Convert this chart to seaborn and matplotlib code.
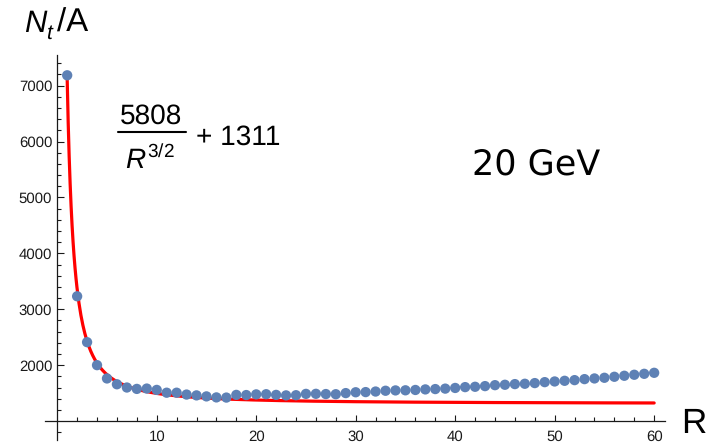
import numpy as np
import pandas as pd
import matplotlib
matplotlib.use("Agg")
import matplotlib.pyplot as plt
from matplotlib.lines import Line2D
import seaborn as sns

# Simulated N_t/A per ring R at 20 GeV
R = list(range(1, 61))
NtA = [7185, 3232, 2411, 2000, 1762, 1658, 1600, 1575, 1581, 1557,
       1507, 1507, 1474, 1459, 1441, 1423, 1420, 1468, 1465, 1477,
       1480, 1468, 1459, 1462, 1486, 1487, 1483, 1480, 1500, 1515,
       1518, 1528, 1542, 1548, 1550, 1556, 1566, 1572, 1580, 1592,
       1607, 1613, 1625, 1642, 1649, 1661, 1667, 1679, 1696, 1708,
       1720, 1732, 1750, 1762, 1774, 1792, 1810, 1828, 1845, 1863]

# Fit: a / R^(3/2) + b
fit_a = 5808
fit_b = 1311

x_major = [10, 20, 30, 40, 50, 60]
y_major = [2000, 3000, 4000, 5000, 6000, 7000]

sns.set_style("ticks")
plt.rcParams["font.family"] = ["Liberation Sans", "DejaVu Sans"]
plt.rcParams["mathtext.fontset"] = "custom"
plt.rcParams["mathtext.rm"] = "Liberation Sans"
plt.rcParams["mathtext.it"] = "Liberation Sans:italic"
plt.rcParams["text.hinting"] = "no_hinting"
plt.rcParams["text.hinting_factor"] = 1

W, H = 719, 448
fig = plt.figure(figsize=(W / 100, H / 100), dpi=100)
ax = fig.add_axes([45 / W, 8 / H, 620 / W, 385 / H])

df = pd.DataFrame({"R": R, "NtA": NtA})
r_fine = np.linspace(1, 60, 600)
fit_df = pd.DataFrame({"R": r_fine, "fit": fit_a / r_fine ** 1.5 + fit_b})

sns.lineplot(data=fit_df, x="R", y="fit", color="#ff0000", linewidth=2.3,
             estimator=None, ax=ax, zorder=2)
sns.scatterplot(data=df, x="R", y="NtA", color="#5e81b5", s=55,
                edgecolor="none", linewidth=0, ax=ax, zorder=3)

ax.set_xlim(-1.23, 61.09)
ax.set_ylim(661, 7548)

# Axes crossing at (0, 1000)
ax.spines["left"].set_position(("data", 0))
ax.spines["bottom"].set_position(("data", 1000))
ax.spines["top"].set_visible(False)
ax.spines["right"].set_visible(False)
for s in ("left", "bottom"):
    ax.spines[s].set_color("#1a1a1a")
    ax.spines[s].set_linewidth(0.9)

ax.set_xticks(x_major)
ax.set_xticks([v for v in range(2, 61, 2) if v % 10], minor=True)
ax.set_yticks(y_major)
ax.set_yticks([v for v in range(800, 7500, 200) if v % 1000], minor=True)
ax.set_xticklabels([str(v) for v in x_major])
ax.set_yticklabels([str(v) for v in y_major])

ax.tick_params(axis="both", which="both", direction="in", color="#1a1a1a",
               width=0.8, labelsize=11, labelcolor="#1a1a1a",
               bottom=True, left=True, top=False, right=False)
ax.tick_params(axis="y", which="major", length=5.0, pad=3.6)
ax.tick_params(axis="y", which="minor", length=3.0)
ax.tick_params(axis="x", which="major", length=4.3, pad=6.2)
ax.tick_params(axis="x", which="minor", length=2.7)
ax.set_xlabel("")
ax.set_ylabel("")


def px(x, y):
    return x / W, 1 - y / H


# Y-axis title: N_t/A
fig.text(*px(24, 31.7), "N", fontsize=22.5, style="italic", ha="left",
         va="baseline", color="black")
fig.text(*px(46, 38.5), "t", fontsize=15, style="italic", ha="left",
         va="baseline", color="black")
fig.text(*px(57, 31.7), "/A", fontsize=24, ha="left", va="baseline",
         color="black")
# X-axis title
fig.text(*px(681, 433), "R", fontsize=25, ha="left", va="baseline",
         color="black")

# Fit formula
fig.text(*px(151, 123.3), str(fit_a), fontsize=20, ha="center",
         va="baseline", color="black")
fig.add_artist(Line2D([118.3 / W, 186 / W], [1 - 131.7 / H, 1 - 131.7 / H],
                      color="black", linewidth=1.5))
fig.text(*px(125, 168.3), r"$R^{3/2}$", fontsize=20, ha="left",
         va="baseline", color="black")
fig.text(*px(195.5, 145), "+ " + str(fit_b), fontsize=20, ha="left",
         va="baseline", color="black")

# Beam energy
fig.text(*px(472, 175), "20 GeV", fontsize=25.5, ha="left", va="baseline",
         family=["DejaVu Sans"], color="black")

fig.savefig("out.png", dpi=100)
